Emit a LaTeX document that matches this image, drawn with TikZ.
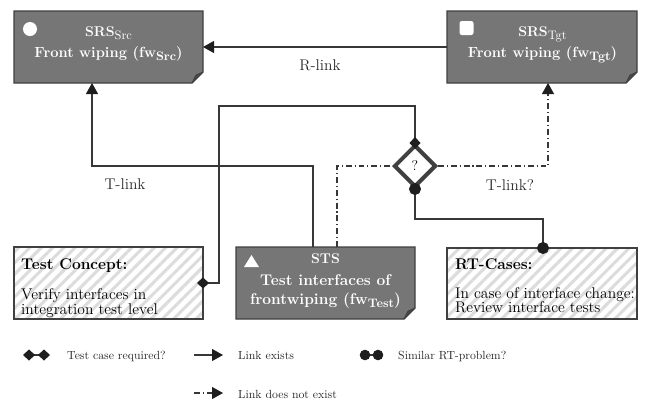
\documentclass[tikz,border=0pt]{standalone}
\usetikzlibrary{arrows.meta,calc,shapes.geometric,patterns.meta}
\definecolor{boxgray}{RGB}{118,118,118}
\definecolor{bordergray}{RGB}{64,64,64}
\definecolor{linegray}{RGB}{55,55,55}
\definecolor{folddark}{RGB}{72,72,72}
\definecolor{hatchgray}{RGB}{220,220,220}
\definecolor{markblack}{RGB}{30,30,30}
\definecolor{textgray}{RGB}{40,40,40}
\def\u{0.85pt}
\newcommand\boxfont{\fontsize{13.2}{15}\selectfont}
\newcommand\subfont{\fontsize{12.5}{15}\selectfont}
\newcommand\lowsub[1]{\raisebox{-3pt}{\fontsize{10.5}{12}\selectfont #1}}
\newcommand\dogear[1]{%
  \filldraw[grayshape] (#1.north west) -- (#1.north east) -- ($(#1.south east)+(0,-11)$) -- ($(#1.south east)+(-11,0)$) -- (#1.south west) -- cycle;
  \filldraw[foldshape] ($(#1.south east)+(0,-11)$) -- ($(#1.south east)+(-11,0)$) -- ($(#1.south east)+(-7,-8)$) -- cycle;
}
\begin{document}
\begin{tikzpicture}[x=0.85pt,y=-0.85pt,
  area/.style={rectangle, inner sep=0pt, outer sep=0pt},
  grayshape/.style={fill=boxgray, draw=bordergray, line width=1pt, line join=miter},
  foldshape/.style={fill=folddark, draw=bordergray, line width=0.6pt, line join=round},
  hatchbox/.style={rectangle, inner sep=0pt, outer sep=0pt, draw=bordergray, line width=1pt,
    pattern={Lines[angle=45,distance=6.8pt,line width=2.6pt]}, pattern color=hatchgray},
  wtitle/.style={text=white, font=\large\bfseries, inner sep=0pt, anchor=base},
  wtext/.style={text=white, font=\boxfont\bfseries, inner sep=0pt, anchor=base},
  btext/.style={text=black, font=\boxfont, inner sep=0pt, anchor=base west},
  lbl/.style={text=textgray, font=\boxfont, inner sep=0pt},
  legtext/.style={text=textgray, font=\normalsize, inner sep=0pt, anchor=base west},
  conn/.style={draw=linegray, line width=0.9pt},
  link/.style={conn, -{Triangle[length=11*\u, width=12*\u, color=markblack]}},
  dashdot/.style={conn, dash pattern=on 5pt off 2.5pt on 0.9pt off 2.5pt},
  dmark/.style={{Diamond[length=12*\u, width=11*\u, color=markblack]}-{Diamond[length=12*\u, width=11*\u, color=markblack]}, shorten <=-6*\u, shorten >=-6*\u},
  cmark/.style={{Circle[length=12*\u, color=markblack]}-{Circle[length=12*\u, color=markblack]}, shorten <=-6*\u, shorten >=-6*\u},
  cmarksmall/.style={{Circle[length=10.5*\u, color=markblack]}-{Circle[length=10.5*\u, color=markblack]}, shorten <=-5.25*\u, shorten >=-5.25*\u}
]
\useasboundingbox (0,0) rectangle (655,402);

% ---------- gray dog-eared boxes ----------
\node[area, minimum width=189*\u, minimum height=72*\u] (src) at (108.5,47) {};
\dogear{src}
\node[area, minimum width=190*\u, minimum height=72*\u] (tgt) at (542,47) {};
\dogear{tgt}
\node[area, minimum width=179*\u, minimum height=72*\u] (sts) at (325.5,283) {};
\dogear{sts}

% ---------- hatched boxes ----------
\node[hatchbox, minimum width=189*\u, minimum height=72*\u] (tc) at (108.5,283) {};
\node[hatchbox, minimum width=190*\u, minimum height=71*\u] (rt) at (542,283.5) {};

% ---------- icons ----------
\node[circle, fill=white, minimum size=14*\u, inner sep=0pt] (srcicon) at (30,29) {};
\node[rectangle, rounded corners=2pt, fill=white, minimum size=14*\u, inner sep=0pt] (tgticon) at (466.5,28) {};
\fill[white] (244,267) -- (259,267) -- (251.5,255) -- cycle;

% ---------- box texts ----------
\node[wtitle] (srct) at (108.5,36) {SRS\lowsub{\mdseries Src}};
\node[wtext, font=\subfont\bfseries] (srcs) at (108.5,57) {Front wiping (fw\lowsub{Src})};
\node[wtitle] (tgtt) at (542.5,36) {SRS\lowsub{\mdseries Tgt}};
\node[wtext, font=\subfont\bfseries] (tgts) at (542.5,57) {Front wiping (fw\lowsub{Tgt})};
\node[wtitle] (stst) at (325.5,263) {STS};
\node[wtext] (stsa) at (325.5,285) {Test interfaces of};
\node[wtext] (stsb) at (325.5,304) {frontwiping (fw\lowsub{Test})};

\node[btext, font=\boxfont\bfseries] (tct) at (21,269) {Test Concept:};
\node[btext] (tca) at (21,299) {Verify interfaces in};
\node[btext] (tcb) at (21,314) {integration test level};

\node[btext, font=\boxfont\bfseries] (rtt) at (455,269) {RT-Cases:};
\node[btext] (rta) at (455,298) {In case of interface change:};
\node[btext] (rtb) at (455,312) {Review interface tests};

% ---------- decision diamond ----------
\node[diamond, draw=bordergray, line width=3.4pt, fill=white, inner sep=0pt,
      minimum width=42*\u, minimum height=42*\u, font=\large] (q) at (415,166) {?};

% ---------- connectors ----------
\draw[link] (tgt.west) -- (src.east);
\node[lbl] (rlink) at (320,65) {R-link};

\draw[link] ($(sts.north west)+(77,0)$) -- ++(0,-81) -| ($(src.south west)+(78,0)$);
\node[lbl] (tlink) at (125,184) {T-link};

\draw[dashdot] ($(sts.north west)+(101,0)$) |- (q.west);
\draw[dashdot, -{Triangle[length=11*\u, width=12*\u, color=markblack]}] (q.east) -| ($(tgt.south west)+(101,0)$);
\node[lbl] (tlinkq) at (510,185) {T-link?};

\draw[conn, dmark] (tc.east) -- ++(16,0) -- ++(0,-177) -| (q.north);
\draw[conn, cmark] (q.south) -- ++(0,30) -| ($(rt.north west)+(96,0)$);

% ---------- legend ----------
\coordinate (l1a) at (29,355); \coordinate (l1b) at (44,355);
\draw[conn, dmark] (l1a) -- (l1b);
\node[legtext] (l1t) at (67,359) {Test case required?};

\coordinate (l2a) at (194,355); \coordinate (l2b) at (223,355);
\draw[link] (l2a) -- (l2b);
\node[legtext] (l2t) at (238,359) {Link exists};

\coordinate (l3a) at (365,355); \coordinate (l3b) at (378,355);
\draw[conn, cmarksmall] (l3a) -- (l3b);
\node[legtext] (l3t) at (398,359) {Similar RT-problem?};

\coordinate (l4a) at (194,393); \coordinate (l4b) at (223,393);
\draw[dashdot, -{Triangle[length=11*\u, width=12*\u, color=markblack]}] (l4a) -- (l4b);
\node[legtext] (l4t) at (238,398) {Link does not exist};
\end{tikzpicture}
\end{document}
